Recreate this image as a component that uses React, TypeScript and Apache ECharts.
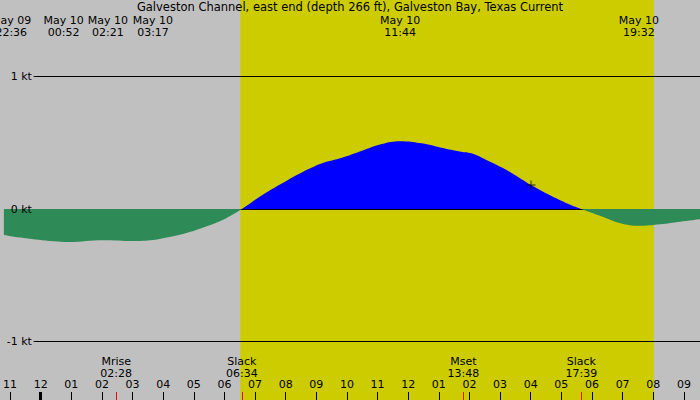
// App.tsx
import React, { useEffect, useRef } from 'react'
import * as echarts from 'echarts'

const FONT = 'DejaVu Sans'

const TITLE = 'Galveston Channel, east end (depth 266 ft), Galveston Bay, Texas Current'

// hours from midnight May 10
const X_MIN = -1.201
const X_MAX = 21.526
const Y_MIN = -1.4415
const Y_MAX = 1.5774

const FLOW_HOURS = [
  -1.2, -0.55, 0.42, 0.91, 2.05, 3.02, 3.67, 4.16, 4.64, 5.29, 5.94, 6.567,
  7.24, 7.89, 8.54, 9.19, 9.84, 10.49, 11.14, 11.73, 12.44, 13.08, 13.73, 14.06,
  14.71, 15.36, 16.01, 16.66, 17.31, 17.65, 18.28, 18.93, 19.53, 20.23, 20.88, 21.53,
]
const FLOW_KT = [
  -0.196, -0.219, -0.244, -0.249, -0.236, -0.242, -0.234, -0.214, -0.189, -0.141, -0.083, 0,
  0.106, 0.194, 0.277, 0.345, 0.387, 0.44, 0.491, 0.512, 0.496, 0.463, 0.432, 0.42,
  0.352, 0.274, 0.181, 0.1, 0.03, 0, -0.053, -0.108, -0.127, -0.115, -0.096, -0.078,
]

const DAY_START = 6.52
const DAY_END = 20.02

const KT_LINES = [1, 0, -1]
const LINE_START_H = -0.227

const HOURS = Array.from({ length: 23 }, (_, i) => i - 1)
const MIDNIGHT = [0]

const EVENT_TIMES = [2.467, 6.567, 13.8, 17.65]
const EVENT_NAMES = ['Mrise', 'Slack', 'Mset', 'Slack']
const EVENT_CLOCK = ['02:28', '06:34', '13:48', '17:39']

const TOP_TIMES = [-1.4, 0.867, 2.35, 3.283, 11.733, 19.533]
const TOP_DATES = ['May 09', 'May 10', 'May 10', 'May 10', 'May 10', 'May 10']
const TOP_CLOCK = ['22:36', '00:52', '02:21', '03:17', '11:44', '19:32']
const TOP_NUDGE = [13.5, -3.5, -4.7, 11.8, 0, 0]

const NOW_POINT = [16.01, 0.181]

const FLOOD = '#0000ff'
const EBB = '#2e8b57'

const hourLabel = (h: number) => String(((h % 12) + 12) % 12 || 12).padStart(2, '0')

export default function App() {
  const ref = useRef<HTMLDivElement>(null)

  useEffect(() => {
    document.body.style.margin = '0'
    const chart = echarts.init(ref.current!, null, { renderer: 'svg' })

    const xBase = {
      type: 'value',
      min: X_MIN,
      max: X_MAX,
      position: 'bottom',
      z: 10,
      axisLine: { show: false, onZero: false },
      splitLine: { show: false },
    }

    const height = 400
    const zeroAt = Y_MAX / (Y_MAX - Y_MIN)
    const areaColor = new echarts.graphic.LinearGradient(0, 0, 0, height, [
      { offset: 0, color: FLOOD },
      { offset: zeroAt, color: FLOOD },
      { offset: zeroAt, color: EBB },
      { offset: 1, color: EBB },
    ], true)

    chart.setOption({
      animation: false,
      backgroundColor: '#c0c0c0',
      textStyle: { fontFamily: FONT },
      title: {
        text: TITLE,
        left: 'center',
        top: 1,
        padding: 0,
        z: 10,
        textStyle: { fontFamily: FONT, fontSize: 11.5, fontWeight: 'normal', color: '#000' },
      },
      grid: { left: 0, right: 0, top: 0, bottom: 0 },
      xAxis: [
        {
          ...xBase,
          axisTick: { inside: true, length: 8, customValues: HOURS, lineStyle: { color: '#000', width: 1 } },
          axisLabel: {
            inside: true,
            margin: 10,
            customValues: HOURS,
            formatter: (v: number) => hourLabel(Math.round(v)),
            color: '#000',
            fontSize: 11,
            fontFamily: FONT,
          },
        },
        {
          ...xBase,
          axisTick: { inside: true, length: 8, customValues: EVENT_TIMES, lineStyle: { color: '#ff0000', width: 1 } },
          axisLabel: {
            inside: true,
            margin: 21,
            customValues: EVENT_TIMES,
            formatter: (v: number) => {
              const i = EVENT_TIMES.findIndex((t) => Math.abs(t - v) < 1e-6)
              return i < 0 ? '' : EVENT_NAMES[i] + '\n' + EVENT_CLOCK[i]
            },
            color: '#000',
            fontSize: 11,
            lineHeight: 12,
            fontFamily: FONT,
          },
        },
        {
          ...xBase,
          axisTick: { inside: true, length: 8, customValues: MIDNIGHT, lineStyle: { color: '#000', width: 3 } },
          axisLabel: { show: false },
        },
      ],
      yAxis: {
        type: 'value',
        min: Y_MIN,
        max: Y_MAX,
        z: 10,
        axisLine: { show: false, onZero: false },
        axisTick: { show: false },
        axisLabel: {
          inside: true,
          margin: 28,
          align: 'right',
          customValues: KT_LINES,
          formatter: (v: number) => `${Math.round(v)} kt`,
          color: '#000',
          fontSize: 11,
          fontFamily: FONT,
        },
        splitLine: { show: false },
      },
      series: [
        {
          type: 'line',
          data: [[DAY_START, 0], [DAY_END, 0]],
          z: 1,
          silent: true,
          showSymbol: false,
          lineStyle: { width: 0 },
          markArea: {
            silent: true,
            z: 1,
            itemStyle: { color: '#cccc00' },
            data: [[{ xAxis: DAY_START }, { xAxis: DAY_END }]],
          },
        },
        {
          type: 'line',
          z: 2,
          data: FLOW_HOURS.map((h, i) => [h, FLOW_KT[i]]),
          smooth: 0.4,
          showSymbol: false,
          silent: true,
          lineStyle: { width: 0 },
          areaStyle: { opacity: 1, color: areaColor },
          markLine: {
            silent: true,
            z: 1.5,
            symbol: 'none',
            lineStyle: { color: '#000', width: 1, type: 'solid' },
            label: { show: false },
            data: KT_LINES.map((v) => [
              { coord: [LINE_START_H, v] },
              { coord: [X_MAX, v] },
            ]),
          },
        },
        {
          type: 'scatter',
          z: 3,
          silent: true,
          data: [NOW_POINT],
          symbol: 'path://M4.5,0H5.5V10H4.5ZM0,4.5H10V5.5H0Z',
          symbolSize: 9,
          itemStyle: { color: '#000' },
        },
      ],
    })

    const graphics = TOP_TIMES.map((t, i) => ({
      type: 'text',
      x: (chart.convertToPixel({ xAxisIndex: 0 }, t) as number) + TOP_NUDGE[i],
      y: 26,
      z: 10,
      silent: true,
      style: {
        text: TOP_DATES[i] + '\n' + TOP_CLOCK[i],
        align: 'center',
        verticalAlign: 'middle',
        fontSize: 11,
        fontFamily: FONT,
        lineHeight: 12,
        fill: '#000',
      },
    }))
    chart.setOption({ graphic: graphics })

    return () => chart.dispose()
  }, [])

  return <div ref={ref} style={{ width: 700, height: 400 }} />
}
